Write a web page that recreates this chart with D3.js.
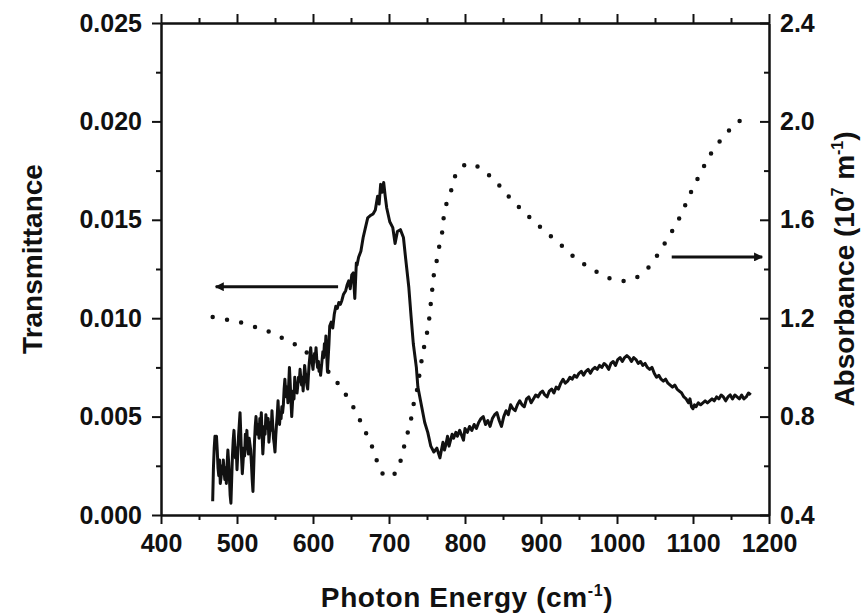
<!DOCTYPE html>
<html>
<head>
<meta charset="utf-8">
<script src="https://cdn.jsdelivr.net/npm/d3@7"></script>
<style>
  body { margin: 0; background: #fff; }
  svg text { font-family: "Liberation Sans", Arial, sans-serif; font-weight: bold; fill: #111; }
  .axis path, .axis line { stroke: #111; stroke-width: 2; }
  .axis text { font-size: 25px; }
</style>
</head>
<body>
<svg id="chart" width="865" height="616"></svg>
<script>
'use strict';

var w = 865;
var h = 616;

// tick values
var xTicks = [ 400, 500, 600, 700, 800, 900, 1000, 1100, 1200 ];
var xMinor = [ 450, 550, 650, 750, 850, 950, 1050, 1150 ];
var tTicks = [ 0, 0.005, 0.010, 0.015, 0.020, 0.025 ];
var tMinor = [ 0.0025, 0.0075, 0.0125, 0.0175, 0.0225 ];
var aTicks = [ 0.4, 0.8, 1.2, 1.6, 2.0, 2.4 ];
var aMinor = [ 0.6, 1.0, 1.4, 1.8, 2.2 ];

// transmittance, [energy, value] (solid line, left axis)
var transmittance = [
	[468, .0007], [469, .0024], [470, .0034], [471, .0040], [472, .0037], [473, .0040], [474, .0033],
	[475, .0024], [476, .0020], [477, .0028], [478, .0016], [479, .0019], [480, .0025], [481, .0021],
	[482, .0028], [483, .0022], [484, .0018], [485, .0024], [486, .0016], [487, .0026], [488, .0033],
	[489, .0027], [490, .0019], [491, .0010], [492, .0006], [493, .0018], [494, .0030], [495, .0038],
	[496, .0043], [497, .0036], [498, .0029], [499, .0034], [500, .0023], [501, .0031], [502, .0040],
	[503, .0046], [504, .0052], [505, .0041], [506, .0029], [507, .0021], [508, .0027], [509, .0034],
	[510, .0030], [511, .0041], [512, .0037], [513, .0043], [514, .0034], [515, .0031], [516, .0039],
	[517, .0036], [518, .0033], [519, .0026], [520, .0018], [521, .0012], [522, .0024], [523, .0037],
	[524, .0045], [525, .0050], [526, .0044], [527, .0041], [528, .0046], [529, .0039], [530, .0049],
	[531, .0044], [532, .0052], [533, .0041], [534, .0031], [535, .0038], [536, .0045], [537, .0041],
	[538, .0051], [539, .0047], [540, .0044], [541, .0049], [542, .0037], [543, .0042], [544, .0047],
	[545, .0043], [546, .0053], [547, .0046], [548, .0039], [549, .0036], [550, .0032], [551, .0040],
	[552, .0046], [553, .0051], [554, .0058], [555, .0050], [556, .0046], [557, .0052], [558, .0049],
	[559, .0055], [560, .0052], [561, .0056], [562, .0064], [563, .0069], [564, .0063], [565, .0060],
	[566, .0065], [567, .0057], [568, .0066], [569, .0075], [570, .0067], [571, .0058], [572, .0050],
	[573, .0057], [574, .0063], [575, .0059], [576, .0070], [577, .0064], [578, .0067], [579, .0062],
	[580, .0066], [581, .0070], [582, .0068], [583, .0074], [584, .0069], [585, .0066], [586, .0070],
	[587, .0063], [588, .0070], [589, .0076], [590, .0072], [591, .0069], [592, .0066], [593, .0064],
	[594, .0071], [595, .0077], [596, .0081], [597, .0085], [598, .0080], [599, .0077], [600, .0074],
	[601, .0079], [602, .0082], [603, .0080], [604, .0085], [605, .0079], [606, .0075], [607, .0078],
	[608, .0073], [609, .0076], [610, .0071], [611, .0075], [612, .0079], [613, .0083], [614, .0080],
	[615, .0087], [616, .0084], [617, .0091], [618, .0082], [619, .0073], [620, .0080], [621, .0087],
	[622, .0096], [624, .0098], [626, .0095], [628, .0102], [630, .0106], [632, .0105], [634, .0108],
	[636, .0107], [638, .0109], [640, .0112], [643, .0114], [645, .0117], [647, .0119], [649, .0115],
	[651, .0122], [653, .0123], [655, .0110], [657, .0128], [658, .0127], [660, .0131], [663, .0134],
	[666, .0141], [669, .0146], [672, .0151], [675, .0152], [679, .0153], [682, .0155], [685, .0162],
	[687, .0158], [689, .0168], [691, .0164], [693, .0169], [695, .0162], [697, .0156], [701, .0149],
	[705, .0146], [708, .0138], [711, .0144], [715, .0145], [719, .0141], [722, .0130], [726, .0116],
	[729, .0101], [732, .0087], [736, .0075], [738, .0065], [743, .0055], [747, .0047], [751, .0042],
	[755, .0035], [759, .0032], [763, .0034], [767, .0029], [769, .0033], [771, .0037], [773, .0033],
	[775, .0036], [777, .0040], [779, .0035], [781, .0038], [783, .0041], [785, .0039], [788, .0042],
	[790, .0040], [793, .0043], [795, .0041], [798, .0038], [800, .0044], [803, .0042], [806, .0045],
	[809, .0043], [812, .0046], [815, .0044], [818, .0047], [821, .0049], [824, .0050], [827, .0046],
	[830, .0048], [833, .0045], [836, .0049], [839, .0051], [842, .0052], [845, .0048], [848, .0045],
	[851, .0050], [854, .0053], [857, .0051], [860, .0056], [863, .0054], [866, .0053], [869, .0056],
	[872, .0058], [875, .0056], [878, .0055], [881, .0059], [884, .0060], [887, .0057], [890, .0059],
	[893, .0061], [896, .0060], [899, .0062], [902, .0063], [905, .0061], [908, .0060], [911, .0063],
	[914, .0064], [917, .0062], [920, .0065], [923, .0064], [926, .0067], [929, .0069], [932, .0067],
	[935, .0068], [938, .0070], [941, .0069], [944, .0071], [947, .0070], [950, .0072], [953, .0073],
	[956, .0071], [959, .0073], [962, .0074], [965, .0072], [968, .0074], [971, .0075], [974, .0074],
	[977, .0076], [980, .0075], [983, .0077], [986, .0076], [989, .0074], [992, .0077], [995, .0078],
	[998, .0076], [1001, .0079], [1004, .0080], [1007, .0078], [1010, .0080], [1013, .0081],
	[1016, .0080], [1019, .0078], [1022, .0080], [1025, .0079], [1028, .0077], [1031, .0078],
	[1034, .0076], [1037, .0077], [1040, .0075], [1043, .0074], [1046, .0075], [1049, .0072],
	[1052, .0070], [1055, .0071], [1058, .0069], [1061, .0068], [1064, .0069], [1067, .0067],
	[1070, .0066], [1073, .0065], [1076, .0066], [1079, .0064], [1082, .0063], [1085, .0062],
	[1088, .0060], [1091, .0059], [1094, .0057], [1096, .0059], [1098, .0055], [1100, .0054],
	[1102, .0056], [1104, .0055], [1107, .0057], [1110, .0056], [1113, .0057], [1116, .0058],
	[1119, .0057], [1122, .0058], [1125, .0059], [1128, .0058], [1131, .0060], [1134, .0059],
	[1137, .0061], [1140, .0060], [1143, .0058], [1146, .0060], [1149, .0061], [1152, .0059],
	[1155, .0061], [1158, .0060], [1161, .0059], [1164, .0061], [1167, .0059], [1170, .0060],
	[1173, .0062], [1176, .0061]
];

// absorbance, [energy, value] (dotted line, right axis)
var absorbance = [
	[468, 1.205], [488, 1.193], [508, 1.18], [528, 1.16], [546, 1.14], [565, 1.11], [584, 1.08],
	[601, 1.035], [618, 0.99], [634, 0.93], [647, 0.87], [658, 0.81], [667, 0.75], [675, 0.70],
	[682, 0.64], [689, 0.58], [697, 0.555], [705, 0.56], [714, 0.61], [720, 0.68], [725, 0.74],
	[729, 0.79], [733, 0.86], [737, 0.91], [740, 0.97], [743, 1.03], [746, 1.08], [750, 1.14],
	[753, 1.20], [755, 1.26], [757, 1.32], [759, 1.376], [763, 1.437], [766, 1.49], [770, 1.55],
	[772, 1.61], [776, 1.67], [783, 1.73], [789, 1.79], [805, 1.83], [824, 1.80], [842, 1.75],
	[858, 1.693], [875, 1.64], [893, 1.587], [911, 1.538], [929, 1.49], [947, 1.44], [967, 1.40],
	[986, 1.367], [1005, 1.351], [1024, 1.363], [1042, 1.408], [1055, 1.465], [1067, 1.526],
	[1078, 1.583], [1087, 1.64], [1095, 1.697], [1104, 1.754], [1114, 1.815], [1125, 1.876],
	[1141, 1.94], [1159, 1.997], [1178, 2.026]
];

// arrows pointing to each curve's axis: [from, to] in energy, at a level on that axis
var arrowT = [ 633, 472 ];
var arrowTLevel = 0.0116;
var arrowA = [ 1072, 1191 ];
var arrowALevel = 1.449;

var plotL = 161, plotR = 769, plotT = 23, plotB = 515;

var x = d3.scaleLinear().domain([ 400, 1200 ]).range([ plotL, plotR ]);
var yT = d3.scaleLinear().domain([ 0, 0.025 ]).range([ plotB, plotT ]);
var yA = d3.scaleLinear().domain([ 0.4, 2.4 ]).range([ plotB, plotT ]);

var svg = d3.select('#chart');

svg.append('rect').attr('width', w).attr('height', h).attr('fill', '#fff');

svg.append('defs').append('marker')
	.attr('id', 'head')
	.attr('viewBox', '0 0 10 10')
	.attr('refX', 9).attr('refY', 5)
	.attr('markerWidth', 4.5).attr('markerHeight', 3)
	.attr('markerUnits', 'strokeWidth')
	.attr('orient', 'auto')
	.append('path')
	.attr('d', 'M0,0L10,5L0,10z')
	.attr('fill', '#111');

// axes: major then minor ticks
var addAxis = function(axis, tx, ty) {
	return svg.append('g')
		.attr('class', 'axis')
		.attr('transform', 'translate(' + tx + ',' + ty + ')')
		.call(axis);
};

addAxis(d3.axisBottom(x).tickValues(xTicks).tickSize(9).tickSizeOuter(0).tickPadding(10)
	.tickFormat(d3.format('d')), 0, plotB);
addAxis(d3.axisBottom(x).tickValues(xMinor).tickSize(5).tickSizeOuter(0).tickFormat(''), 0, plotB);
addAxis(d3.axisTop(x).tickValues(xTicks).tickSize(9).tickSizeOuter(0).tickFormat(''), 0, plotT);
addAxis(d3.axisTop(x).tickValues(xMinor).tickSize(5).tickSizeOuter(0).tickFormat(''), 0, plotT);

addAxis(d3.axisLeft(yT).tickValues(tTicks).tickSize(9).tickSizeOuter(0).tickPadding(10)
	.tickFormat(d3.format('.3f')), plotL, 0);
addAxis(d3.axisLeft(yT).tickValues(tMinor).tickSize(5).tickSizeOuter(0).tickFormat(''), plotL, 0);

addAxis(d3.axisRight(yA).tickValues(aTicks).tickSize(-9).tickSizeOuter(0).tickPadding(11)
	.tickFormat(d3.format('.1f')), plotR, 0);
addAxis(d3.axisRight(yA).tickValues(aMinor).tickSize(-5).tickSizeOuter(0).tickFormat(''), plotR, 0);

// dotted absorbance curve
var lineA = d3.line()
	.x(function(d) { return x(d[0]); })
	.y(function(d) { return yA(d[1]); })
	.curve(d3.curveCatmullRom);

svg.append('path')
	.attr('d', lineA(absorbance))
	.attr('fill', 'none')
	.attr('stroke', '#111')
	.attr('stroke-width', 4.5)
	.attr('stroke-linecap', 'round')
	.attr('stroke-dasharray', '0 14.5');

// noisy transmittance curve
var lineT = d3.line()
	.x(function(d) { return x(d[0]); })
	.y(function(d) { return yT(d[1]); });

svg.append('path')
	.attr('d', lineT(transmittance))
	.attr('fill', 'none')
	.attr('stroke', '#111')
	.attr('stroke-width', 3)
	.attr('stroke-linejoin', 'round');

// arrows
svg.append('line')
	.attr('x1', x(arrowT[0])).attr('x2', x(arrowT[1]))
	.attr('y1', yT(arrowTLevel)).attr('y2', yT(arrowTLevel))
	.attr('stroke', '#111').attr('stroke-width', 3)
	.attr('marker-end', 'url(#head)');

svg.append('line')
	.attr('x1', x(arrowA[0])).attr('x2', x(arrowA[1]))
	.attr('y1', yA(arrowALevel)).attr('y2', yA(arrowALevel))
	.attr('stroke', '#111').attr('stroke-width', 3)
	.attr('marker-end', 'url(#head)');

// axis titles
var xt = svg.append('text')
	.attr('x', (plotL + plotR) / 2 + 2)
	.attr('y', 607)
	.attr('text-anchor', 'middle')
	.attr('font-size', 28)
	.attr('letter-spacing', 0.6);
xt.append('tspan').text('Photon Energy (cm');
xt.append('tspan').attr('dy', -11).attr('font-size', 16).text('-1');
xt.append('tspan').attr('dy', 11).text(')');

svg.append('text')
	.attr('transform', 'translate(42,259) rotate(-90)')
	.attr('text-anchor', 'middle')
	.attr('font-size', 28)
	.text('Transmittance');

var yt = svg.append('text')
	.attr('transform', 'translate(854,269) rotate(-90)')
	.attr('text-anchor', 'middle')
	.attr('font-size', 28);
yt.append('tspan').text('Absorbance (10');
yt.append('tspan').attr('dy', -11).attr('font-size', 16).text('7');
yt.append('tspan').attr('dy', 11).text(' m');
yt.append('tspan').attr('dy', -11).attr('font-size', 16).text('-1');
yt.append('tspan').attr('dy', 11).text(')');
</script>
</body>
</html>
